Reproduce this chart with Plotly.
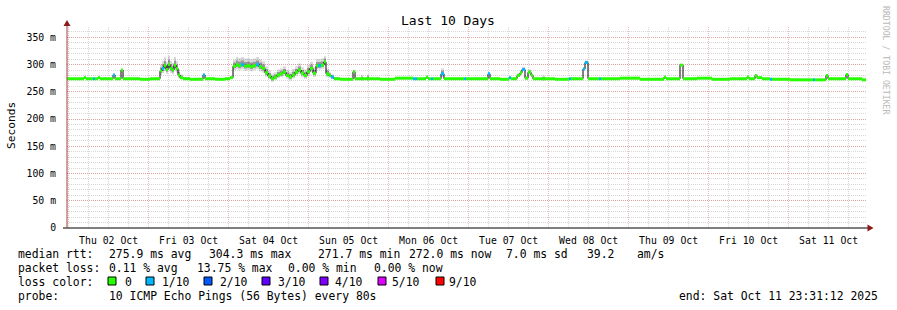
import datetime as dt
import plotly.graph_objects as go

# ---------------- data ----------------
start = dt.datetime(2025, 10, 1, 23, 31, 12)
end = start + dt.timedelta(days=10)

# hours after start
hours = [0.0, 5.1, 5.7, 7.8, 8.4, 9.3, 9.9, 13.8, 14.4, 16.2, 16.8, 21.9, 24.9,
         27.9, 28.5, 29.1, 29.7, 30.3, 30.9, 31.5, 32.1, 32.7, 33.3, 33.9, 34.8,
         36.9, 40.8, 41.4, 44.4, 47.4, 48.9, 49.8, 50.7, 51.3, 52.2, 53.1, 54.0,
         54.9, 55.8, 56.7, 57.6, 58.5, 59.4, 60.3, 61.2, 62.1, 63.0, 63.9, 64.8,
         65.7, 66.6, 67.5, 68.4, 69.3, 70.2, 71.1, 72.0, 72.9, 73.8, 74.7, 75.3,
         76.2, 77.1, 77.7, 78.6, 79.2, 80.1, 81.9, 85.8, 86.4, 88.2, 88.8, 90.0,
         90.6, 93.9, 98.4, 103.8, 105.0, 107.7, 108.3, 109.2, 109.8, 112.2, 113.1,
         119.1, 119.7, 126.3, 126.9, 129.9, 132.6, 133.2, 135.0, 135.9, 136.5,
         137.4, 138.3, 139.2, 139.8, 142.5, 143.4, 146.4, 150.6, 151.2, 154.8,
         155.4, 156.3, 159.6, 160.2, 165.9, 171.9, 179.1, 179.7, 183.9, 184.8,
         189.0, 193.5, 198.9, 204.0, 204.6, 206.4, 207.0, 208.5, 210.9, 211.5,
         216.9, 223.8, 224.4, 227.7, 228.3, 233.7, 234.3, 238.5, 239.7]

# median rtt (ms)
median = [274, 276, 274, 274, 274, 276, 274, 281, 274, 290, 274, 273, 274,
          288, 293, 298, 291, 300, 293, 290, 299, 293, 281, 276, 274,
          273, 281, 274, 273, 274, 276, 297, 300, 298, 300, 297, 298,
          296, 298, 300, 296, 293, 285, 279, 274, 277, 281, 283, 286,
          280, 277, 281, 286, 290, 284, 280, 287, 293, 284, 298, 298,
          299, 305, 283, 280, 277, 274, 273, 287, 274, 274, 274, 274,
          274, 273, 275, 274, 274, 277, 274, 274, 274, 283, 274,
          274, 274, 283, 274, 273, 276, 274, 280, 285, 291,
          275, 286, 280, 274, 274, 274, 273, 274, 274, 292,
          304, 274, 274, 274, 275, 273, 277, 274, 299, 274,
          275, 273, 274, 277, 274, 280, 276, 274, 273, 273,
          272, 272, 272, 280, 274, 282, 274, 272, 272]

# lost pings out of 10
loss = [0, 0, 0, 1, 0, 0, 0, 1, 0, 0, 0, 0, 0,
        0, 1, 0, 0, 0, 0, 0, 0, 0, 0, 0, 0,
        0, 1, 0, 0, 0, 0, 0, 0, 0, 1, 0, 0,
        0, 0, 1, 0, 0, 0, 0, 0, 0, 0, 0, 0,
        0, 0, 0, 0, 0, 0, 0, 0, 0, 0, 0, 1,
        0, 0, 0, 0, 1, 0, 0, 0, 0, 0, 0, 0,
        0, 0, 0, 1, 0, 0, 0, 1, 0, 1, 0,
        1, 0, 1, 0, 0, 1, 0, 0, 0, 1,
        0, 0, 0, 0, 0, 0, 0, 1, 0, 1,
        1, 0, 1, 0, 0, 0, 0, 0, 0, 0,
        0, 0, 0, 0, 0, 0, 0, 0, 1, 0,
        0, 1, 0, 0, 0, 0, 0, 0, 0]

# smoke spread (ms) above the median
spread = [0, 2, 0, 0, 0, 2, 0, 2, 0, 2, 0, 0, 0,
          12, 14, 16, 14, 16, 14, 13, 15, 13, 10, 6, 3,
          0, 2, 0, 0, 0, 3, 12, 14, 14, 14, 14, 13,
          14, 13, 14, 14, 13, 12, 10, 9, 9, 10, 10, 11,
          10, 10, 11, 11, 12, 11, 11, 12, 12, 11, 12, 12,
          12, 11, 10, 7, 5, 3, 0, 3, 0, 7, 0, 8,
          0, 0, 0, 0, 0, 2, 0, 0, 0, 10, 0,
          0, 0, 3, 0, 0, 2, 0, 4, 5, 5,
          4, 5, 4, 0, 6, 0, 0, 0, 0, 3,
          3, 0, 0, 0, 0, 0, 2, 0, 2, 0,
          0, 0, 0, 2, 0, 2, 0, 0, 0, 0,
          0, 0, 0, 2, 0, 2, 0, 0, 0]

loss_colors = {0: "#26ff00", 1: "#00b8ff", 2: "#0059ff", 3: "#5e00ff",
               4: "#7e00ff", 5: "#dd00ff", 9: "#ff0000"}
legend_labels = ["0", "1/10", "2/10", "3/10", "4/10", "5/10", "9/10"]
legend_keys = [0, 1, 2, 3, 4, 5, 9]
y_ticks = [0, 50, 100, 150, 200, 250, 300, 350]
y_ticktext = ["0", "50 m", "100 m", "150 m", "200 m", "250 m", "300 m", "350 m"]

times = [start + dt.timedelta(hours=h) for h in hours]

# ---------------- figure ----------------
fig = go.Figure()

# smoke (outer / inner)
lo_out = [m - s * 0.6 for m, s in zip(median, spread)]
hi_out = [m + s for m, s in zip(median, spread)]
lo_in = [m - s * 0.3 for m, s in zip(median, spread)]
hi_in = [m + s * 0.55 for m, s in zip(median, spread)]
for lo, hi, col in [(lo_out, hi_out, "rgba(0,0,0,0.15)"), (lo_in, hi_in, "rgba(0,0,0,0.3)")]:
    fig.add_trace(go.Scatter(x=times, y=lo, mode="lines", line=dict(width=0, shape="hv"),
                             hoverinfo="skip"))
    fig.add_trace(go.Scatter(x=times, y=hi, mode="lines", line=dict(width=0, shape="hv"),
                             fill="tonexty", fillcolor=col, hoverinfo="skip"))

# black step line
fig.add_trace(go.Scatter(x=times, y=median, mode="lines",
                         line=dict(color="#000000", width=1, shape="hv")))

# loss-coloured horizontal pieces
for key in sorted(set(loss)):
    xs, ys = [], []
    for i in range(len(times) - 1):
        if loss[i] == key:
            xs += [times[i], times[i + 1], None]
            ys += [median[i], median[i], None]
    fig.add_trace(go.Scatter(x=xs, y=ys, mode="lines",
                             line=dict(color=loss_colors[key], width=3)))

MONO = "DejaVu Sans Mono"
PL, PR, PT, PB = 67, 867, 27, 228


def px(x):
    return (x - PL) / (PR - PL)


def py(y):
    return (PB - y) / (PB - PT)


MAJOR = "rgba(222,90,90,0.42)"
MINOR = "rgba(130,130,130,0.32)"
DOT = "1px,1px"

fig.update_layout(
    width=897, height=310,
    margin=dict(l=PL, r=897 - PR, t=PT, b=310 - PB),
    paper_bgcolor="white", plot_bgcolor="white",
    showlegend=False,
    font=dict(family=MONO, color="black", size=10),
    xaxis=dict(
        type="date", range=[start, end],
        tick0="2025-10-02", dtick=86400000, ticklabelmode="period",
        tickformat="%a %d %b", tickfont=dict(size=9.8, family=MONO),
        ticks="outside", ticklen=3, tickcolor="rgba(0,0,0,0)",
        showgrid=True, gridcolor=MAJOR, griddash=DOT, gridwidth=1,
        minor=dict(dtick=6 * 3600000, showgrid=True, gridcolor=MINOR,
                   griddash=DOT, gridwidth=1),
        showline=False, zeroline=False, fixedrange=True,
    ),
    yaxis=dict(
        range=[0, 369], tickvals=y_ticks, ticktext=y_ticktext,
        tickfont=dict(size=9.8, family=MONO),
        ticks="outside", ticklen=8, tickcolor="rgba(0,0,0,0)",
        showgrid=True, gridcolor=MAJOR, griddash=DOT, gridwidth=1,
        minor=dict(dtick=10, showgrid=True, gridcolor=MINOR,
                   griddash=DOT, gridwidth=1),
        showline=False, zeroline=False, fixedrange=True,
    ),
)

shapes = []
# axes
shapes.append(dict(type="line", xref="paper", yref="paper", x0=px(63), x1=px(870),
                   y0=py(228), y1=py(228), line=dict(color="black", width=1)))
shapes.append(dict(type="line", xref="paper", yref="paper", x0=px(67), x1=px(67),
                   y0=py(228), y1=py(23), line=dict(color="#a04040", width=1)))
# arrows
shapes.append(dict(type="path", xref="paper", yref="paper",
                   path=f"M {px(867.5)} {py(224.5)} L {px(873.5)} {py(228)} L {px(867.5)} {py(231.5)} Z",
                   fillcolor="#8b1a1a", line=dict(color="#8b1a1a", width=0)))
shapes.append(dict(type="path", xref="paper", yref="paper",
                   path=f"M {px(63.5)} {py(26)} L {px(67)} {py(20)} L {px(70.5)} {py(26)} Z",
                   fillcolor="#8b1a1a", line=dict(color="#8b1a1a", width=0)))

annotations = []


def text(x, y, s, size=11.4, anchor="left", color="black", angle=0):
    annotations.append(dict(xref="paper", yref="paper", x=px(x), y=py(y), text=s,
                            showarrow=False, xanchor=anchor, yanchor="middle",
                            textangle=angle,
                            font=dict(family=MONO, size=size, color=color)))


text(448, 20, "Last 10 Days", size=13, anchor="center")
text(11, 125, "Seconds", size=11.2, anchor="center", angle=-90)
text(886, 60, "RRDTOOL / TOBI OETIKER", size=8.2, anchor="center", color="#b8b8b8", angle=90)

# legend lines
for x, s in [(16, "median rtt:"), (107, "275.9 ms avg"), (207, "304.3 ms max"),
             (316, "271.7 ms min"), (407, "272.0 ms now"), (504, "7.0 ms sd"),
             (585, "39.2"), (635, "am/s")]:
    text(x, 254, s)
for x, s in [(16, "packet loss:"), (107, "0.11 % avg"), (195, "13.75 % max"),
             (286, "0.00 % min"), (372, "0.00 % now")]:
    text(x, 268, s)
text(16, 282, "loss color:")
sq_x = [108, 146, 204, 262, 320, 378, 436]
tx_x = [123, 160, 218, 276, 333, 390, 447]
for key, lab, sx, tx in zip(legend_keys, legend_labels, sq_x, tx_x):
    shapes.append(dict(type="rect", xref="paper", yref="paper",
                       x0=px(sx), x1=px(sx + 8), y0=py(285), y1=py(277),
                       fillcolor=loss_colors[key], line=dict(color="black", width=1)))
    text(tx, 282, lab)
text(16, 296, "probe:")
text(107, 296, "10 ICMP Echo Pings (56 Bytes) every 80s")
text(880, 296, "end: Sat Oct 11 23:31:12 2025", anchor="right")

fig.update_layout(shapes=shapes, annotations=annotations)
fig.write_html("out.html")
